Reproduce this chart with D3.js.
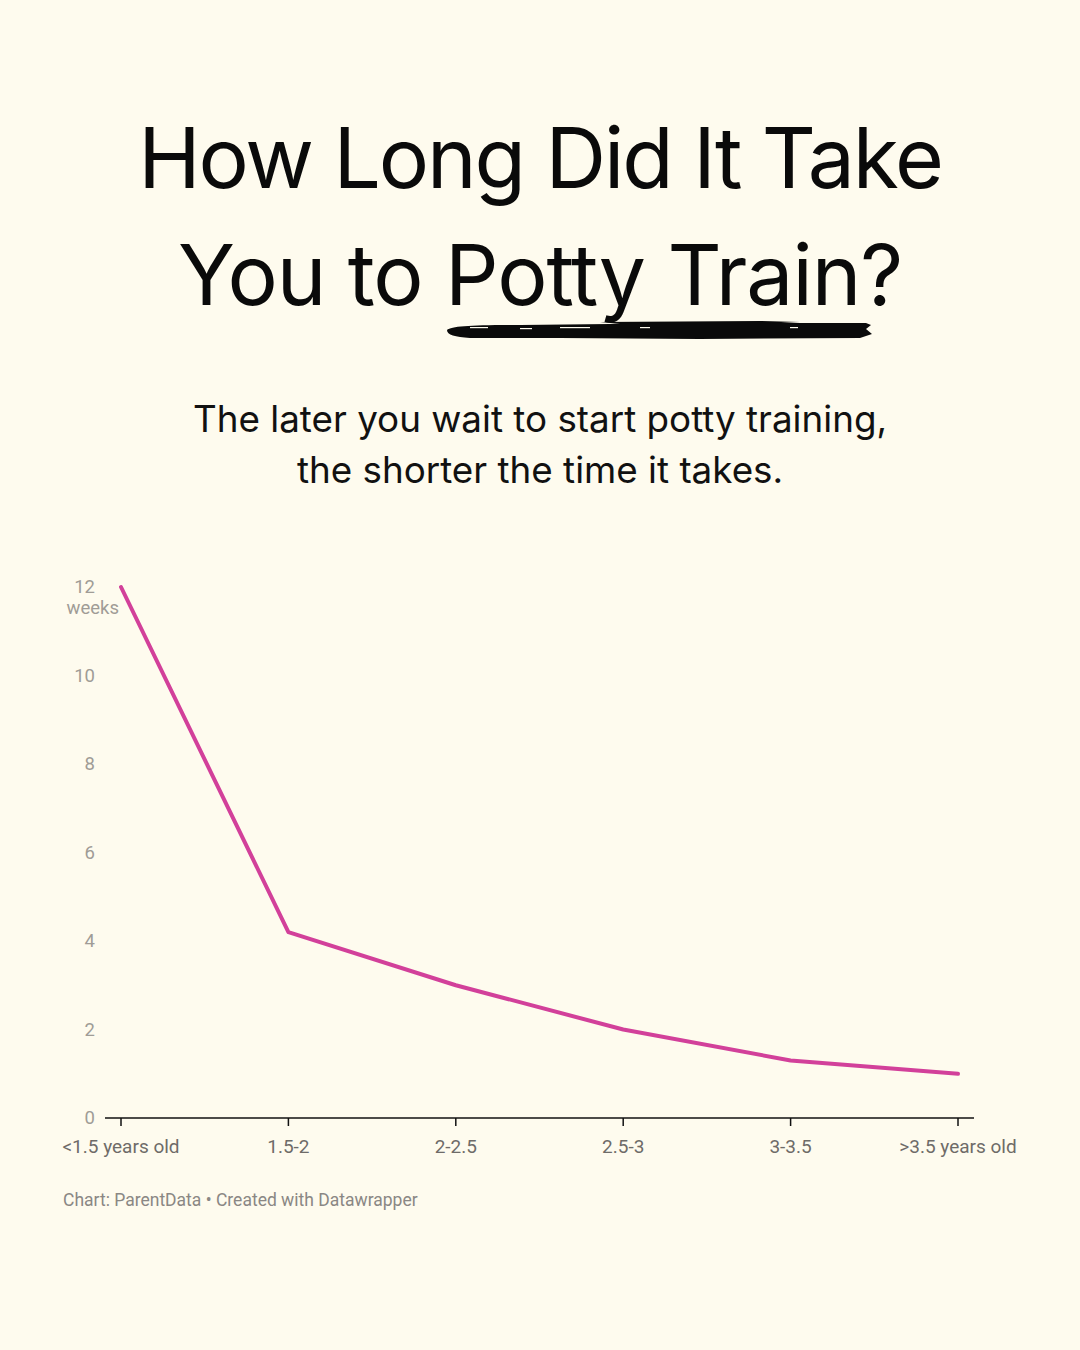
<!DOCTYPE html>
<html>
<head>
<meta charset="utf-8">
<script src="https://cdn.jsdelivr.net/npm/d3@7"></script>
<style>
  html, body { margin: 0; padding: 0; background: #fefbee; }
  svg { display: block; }
</style>
</head>
<body>
<svg width="1080" height="1350"></svg>
<script>
// chart data
const ageGroups = ["<1.5 years old", "1.5-2", "2-2.5", "2.5-3", "3-3.5", ">3.5 years old"];
const weeks = [12, 4.2, 3, 2, 1.3, 1];
const yTicks = [0, 2, 4, 6, 8, 10, 12];

const titleLines = ["How Long Did It Take", "You to Potty Train?"];
const subtitleLines = ["The later you wait to start potty training,", "the shorter the time it takes."];
const sourceText = "Chart: ParentData \u2022 Created with Datawrapper";

const svg = d3.select('svg');
const W = 1080, H = 1350;

svg.append('rect').attr('width', W).attr('height', H).attr('fill', '#fefbee');

// title
const title = svg.append('g');
title.selectAll('text')
  .data(titleLines)
  .enter()
  .append('text')
    .text(d => d)
    .attr('x', 540)
    .attr('y', (d, i) => 188 + i * 117)
    .attr('text-anchor', 'middle')
    .attr('fill', '#0a0a0a')
    .attr('font-size', 84)
    .attr('font-family', 'Inter, sans-serif')
    .attr('font-weight', 400)
    .attr('letter-spacing', (d, i) => i === 0 ? -2.1 : -1.1);

// brush stroke under "Potty Train"
const brush = svg.append('g').attr('fill', '#0a0a0a');
brush.append('path')
  .attr('d', 'M447,330 C452,326 470,325 520,325 L700,323 L866,323 L871,325 L866,329 L872,334 L860,338 L700,339 L560,338 L470,338 C455,337 447,335 447,330 Z');
brush.append('path')
  .attr('d', 'M600,322 L760,321 L800,322 L760,324 L620,324 Z');
// a few dry-brush gaps
brush.selectAll('rect.gap')
  .data([[470, 327, 18], [520, 328, 12], [560, 327, 30], [640, 327, 10], [790, 327, 8]])
  .enter()
  .append('rect')
    .attr('class', 'gap')
    .attr('x', d => d[0]).attr('y', d => d[1])
    .attr('width', d => d[2]).attr('height', 1.2)
    .attr('fill', '#fefbee');

// subtitle
svg.append('g').selectAll('text')
  .data(subtitleLines)
  .enter()
  .append('text')
    .text(d => d)
    .attr('x', 540)
    .attr('y', (d, i) => 432 + i * 51)
    .attr('text-anchor', 'middle')
    .attr('fill', '#111')
    .attr('font-size', 36.8)
    .attr('font-family', 'Inter, sans-serif')
    .attr('font-weight', 400);

// chart area
const xScale = d3.scalePoint()
  .domain(ageGroups)
  .range([121, 958]);

const yScale = d3.scaleLinear()
  .domain([0, 12])
  .range([1118, 587]);

// y tick labels (no axis line)
const yAxis = svg.append('g');
yAxis.selectAll('text')
  .data(yTicks)
  .enter()
  .append('text')
    .text(d => d)
    .attr('x', 95)
    .attr('y', d => yScale(d) + 6)
    .attr('text-anchor', 'end')
    .attr('fill', '#a09c96')
    .attr('font-size', 18.5)
    .attr('font-family', 'Roboto, sans-serif');
yAxis.append('text')
  .text('weeks')
  .attr('x', 119)
  .attr('y', yScale(12) + 27)
  .attr('text-anchor', 'end')
  .attr('fill', '#a09c96')
  .attr('font-size', 18.5)
  .attr('font-family', 'Roboto, sans-serif');

// x axis
const xAxis = svg.append('g');
xAxis.append('line')
  .attr('x1', 105).attr('x2', 974)
  .attr('y1', yScale(0)).attr('y2', yScale(0))
  .attr('stroke', '#111').attr('stroke-width', 1.5);
xAxis.selectAll('line.tick')
  .data(ageGroups)
  .enter()
  .append('line')
    .attr('class', 'tick')
    .attr('x1', d => xScale(d)).attr('x2', d => xScale(d))
    .attr('y1', yScale(0)).attr('y2', yScale(0) + 8)
    .attr('stroke', '#111').attr('stroke-width', 1.5);
xAxis.selectAll('text')
  .data(ageGroups)
  .enter()
  .append('text')
    .text(d => d)
    .attr('x', d => xScale(d))
    .attr('y', yScale(0) + 35)
    .attr('text-anchor', 'middle')
    .attr('fill', '#6e6b68')
    .attr('font-size', 19)
    .attr('font-family', 'Roboto, sans-serif');

// the line
const line = d3.line()
  .x((d, i) => xScale(ageGroups[i]))
  .y(d => yScale(d));

svg.append('path')
  .datum(weeks)
  .attr('d', line)
  .attr('fill', 'none')
  .attr('stroke', '#d2409a')
  .attr('stroke-width', 4)
  .attr('stroke-linejoin', 'round')
  .attr('stroke-linecap', 'round');

// source
svg.append('text')
  .text(sourceText)
  .attr('x', 63)
  .attr('y', 1206)
  .attr('fill', '#8a8784')
  .attr('font-size', 17.5)
  .attr('font-family', 'Roboto, sans-serif');
</script>
</body>
</html>
